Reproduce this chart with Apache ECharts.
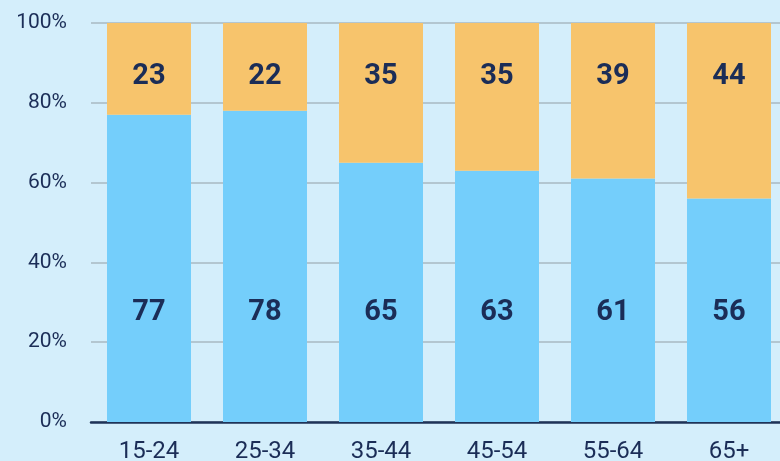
<!DOCTYPE html>
<html><head><meta charset="utf-8">
<script src="https://cdn.jsdelivr.net/npm/echarts@6/dist/echarts.min.js"></script>
<style>html,body{margin:0;padding:0;background:#d4eefb;overflow:hidden;}#c{width:780px;height:461px;}</style>
</head><body><div id="c"></div>
<script>
const categories = ['15-24','25-34','35-44','45-54','55-64','65+'];
const blueValues = [77,78,65,63,61,56];
const orangeLabels = [23,22,35,35,39,44];
// bar heights as drawn in the picture (45-54 segment visually reaches 100%)
const orangeValues = [23,22,35,37,39,44];
const yTicks = [0,20,40,60,80,100];

const chart = echarts.init(document.getElementById('c'));
const lbl = {show:true,color:'#1b2d57',fontFamily:'Roboto',fontWeight:'bold',fontSize:29,lineHeight:28};
chart.setOption({
  backgroundColor:'#d4eefb',
  animation:false,
  grid:{left:91,width:696,top:23,bottom:39,containLabel:false,outerBoundsMode:'none'},
  xAxis:{type:'category',data:categories,
    axisLine:{lineStyle:{color:'#1e3358',width:2.5}},
    axisTick:{show:false},
    axisLabel:{color:'#1b2d57',fontFamily:'Roboto',fontSize:24,margin:18}},
  yAxis:{type:'value',min:0,max:100,interval:20,
    axisLine:{show:false},axisTick:{show:false},
    splitLine:{lineStyle:{color:'#a9b8c2',width:1.5}},
    axisLabel:{color:'#1b2d57',fontFamily:'Roboto',fontSize:21,margin:24,formatter:v=>yTicks.includes(v)?v+'%':''}},
  series:[
    {type:'bar',stack:'a',data:blueValues,barWidth:84,itemStyle:{color:'#74cefb'},
     label:Object.assign({},lbl,{position:'insideBottom',distance:95})},
    {type:'bar',stack:'a',data:orangeValues,barWidth:84,itemStyle:{color:'#f7c46c'},
     label:Object.assign({},lbl,{position:'insideTop',distance:40,formatter:p=>String(orangeLabels[p.dataIndex])})}
  ]
});
</script></body></html>
